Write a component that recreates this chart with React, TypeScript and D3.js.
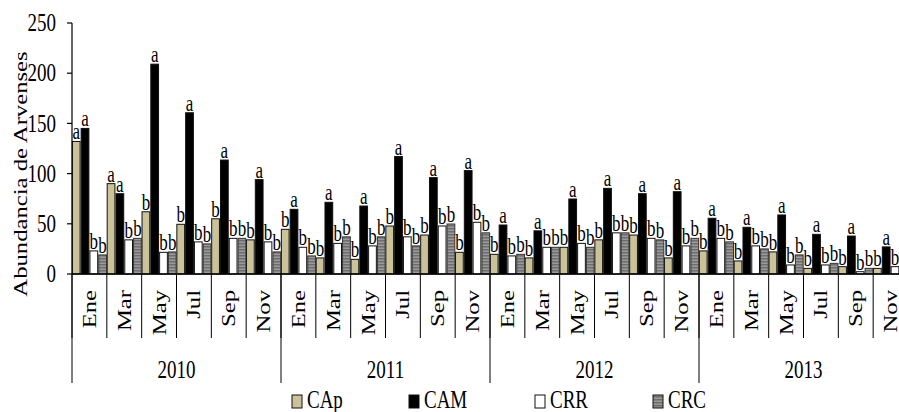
import React from "react";
import * as d3 from "d3";

const years = ["2010", "2011", "2012", "2013"];
const months = ["Ene", "Mar", "May", "Jul", "Sep", "Nov"];
const seriesNames = ["CAp", "CAM", "CRR", "CRC"];

const CAp = [132, 90, 62, 49.5, 55, 34, 44.5, 16, 14.6, 47.8, 38.8, 21.6, 19.6, 16, 26.6, 34, 38.8, 16, 23, 13, 22, 5.6, 7.3, 5.6];
const CAM = [145, 80, 209, 160.6, 113.5, 94, 64.4, 71.4, 67.7, 117, 96, 103, 48.8, 43, 74.7, 85.3, 80, 82, 55.5, 46.5, 58.8, 39.5, 37.8, 27];
const CRR = [23, 34, 21.6, 32, 35.5, 32, 26.6, 30.5, 28, 37, 47.8, 51.5, 18, 26.6, 30.5, 41, 35.5, 28, 35.5, 28, 9, 9, 2.3, 7.3];
const CRC = [19, 35.5, 22, 30, 35.5, 22, 18, 37, 37, 28, 49.8, 41, 19.6, 26.6, 26.6, 41, 34, 35.5, 32, 25, 19, 10.6, 5.6, 6];

const lettersCAp = ["a", "a", "b", "b", "b", "b", "b", "b", "b", "b", "b", "b", "b", "b", "b", "b", "b", "b", "b", "b", "b", "b", "b", "b"];
const lettersCAM = Array(24).fill("a");
const lettersCRR = Array(24).fill("b");
const lettersCRC = Array(24).fill("b");

const yTicks = [0, 50, 100, 150, 200, 250];

const W = 899;
const H = 412;
const FONT = "'Liberation Serif', 'Times New Roman', serif";
const SY = 1.3;

export default function App() {
  const categories = years.flatMap((y) => months.map((m) => `${y}-${m}`));
  const values = [CAp, CAM, CRR, CRC];
  const letters = [lettersCAp, lettersCAM, lettersCRR, lettersCRC];
  const fills = ["#CCC29A", "#000000", "#FFFFFF", "url(#crcPat)"];

  const x0 = 72;
  const x1 = 908;
  const yBase = 274;
  const y = d3.scaleLinear().domain([0, 250]).range([yBase, 23]);
  const xg = d3.scaleBand().domain(categories).range([x0, x1]).paddingInner(0).paddingOuter(0);
  const xs = d3.scaleBand().domain(seriesNames).range([0, xg.bandwidth()]).paddingInner(0.12).paddingOuter(0.04);
  const xy = d3.scaleBand().domain(years).range([x0, x1]);

  const legendX = [292, 409, 535, 653];

  return (
    <svg width={W} height={H} style={{ position: "absolute", left: 0, top: 0, display: "block", background: "#fff" }} fontFamily={FONT}>
      <defs>
        <pattern id="crcPat" width="4" height="3" patternUnits="userSpaceOnUse">
          <rect width="4" height="3" fill="#9a9a9a" />
          <rect width="4" height="1.5" fill="#6e6e6e" />
        </pattern>
      </defs>
      <rect width={W} height={H} fill="#fff" />

      {/* bars */}
      {values.map((vals, s) =>
        vals.map((v, i) => {
          const bx = (xg(categories[i]) as number) + (xs(seriesNames[s]) as number);
          const bw = xs.bandwidth();
          return (
            <rect
              key={`b-${s}-${i}`}
              x={bx}
              y={y(v)}
              width={bw}
              height={yBase - y(v)}
              fill={fills[s]}
              stroke={s === 3 ? "#333" : "#111"}
              strokeWidth={1}
            />
          );
        })
      )}

      {/* letters */}
      {values.map((vals, s) =>
        vals.map((v, i) => {
          const cx = (xg(categories[i]) as number) + (xs(seriesNames[s]) as number) + xs.bandwidth() / 2;
          return (
            <text
              key={`l-${s}-${i}`}
              transform={`translate(${cx},${y(v) - 2}) scale(1,${SY})`}
              textAnchor="middle"
              fontSize={17}
              fill="#000"
            >
              {letters[s][i]}
            </text>
          );
        })
      )}

      {/* y axis */}
      <line x1={x0} x2={x0} y1={y(250)} y2={yBase} stroke="#000" strokeWidth={1.2} />
      {yTicks.map((t) => (
        <g key={`yt-${t}`}>
          <line x1={x0 - 5} x2={x0} y1={y(t)} y2={y(t)} stroke="#000" strokeWidth={1.2} />
          <text transform={`translate(56,${y(t)}) scale(1,${SY})`} textAnchor="end" dy="0.33em" fontSize={19} fill="#000">
            {t}
          </text>
        </g>
      ))}
      <text transform={`translate(27,174) scale(1,${SY}) rotate(-90)`} textAnchor="middle" fontSize={19} fill="#000">
        Abundancia de Arvenses
      </text>

      {/* x axis */}
      <line x1={x0} x2={x1} y1={yBase} y2={yBase} stroke="#000" strokeWidth={1.5} />
      {categories.map((c, i) => {
        const gx = xg(c) as number;
        return (
          <g key={`xc-${c}`}>
            <line x1={gx} x2={gx} y1={yBase} y2={338} stroke="#000" strokeWidth={1} />
            <text
              transform={`translate(${gx + xg.bandwidth() / 2 + 6.5},290) scale(1,${SY}) rotate(-90)`}
              textAnchor="end"
              fontSize={19}
              fill="#000"
            >
              {months[i % months.length]}
            </text>
          </g>
        );
      })}
      {years.map((yr) => {
        const yx = xy(yr) as number;
        return (
          <g key={`yr-${yr}`}>
            <line x1={yx} x2={yx} y1={yBase} y2={383} stroke="#000" strokeWidth={1} />
            <text transform={`translate(${yx + xy.bandwidth() / 2},378) scale(1,${SY})`} textAnchor="middle" fontSize={19} fill="#000">
              {yr}
            </text>
          </g>
        );
      })}
      <line x1={x1} x2={x1} y1={yBase} y2={383} stroke="#000" strokeWidth={1} />

      {/* legend */}
      {seriesNames.map((n, s) => (
        <g key={`lg-${n}`}>
          <rect x={legendX[s]} y={395} width={10} height={13} fill={fills[s]} stroke="#111" strokeWidth={1} />
          <text transform={`translate(${legendX[s] + 15},407.5) scale(1,${SY})`} fontSize={19} fill="#000">
            {n}
          </text>
        </g>
      ))}
    </svg>
  );
}
